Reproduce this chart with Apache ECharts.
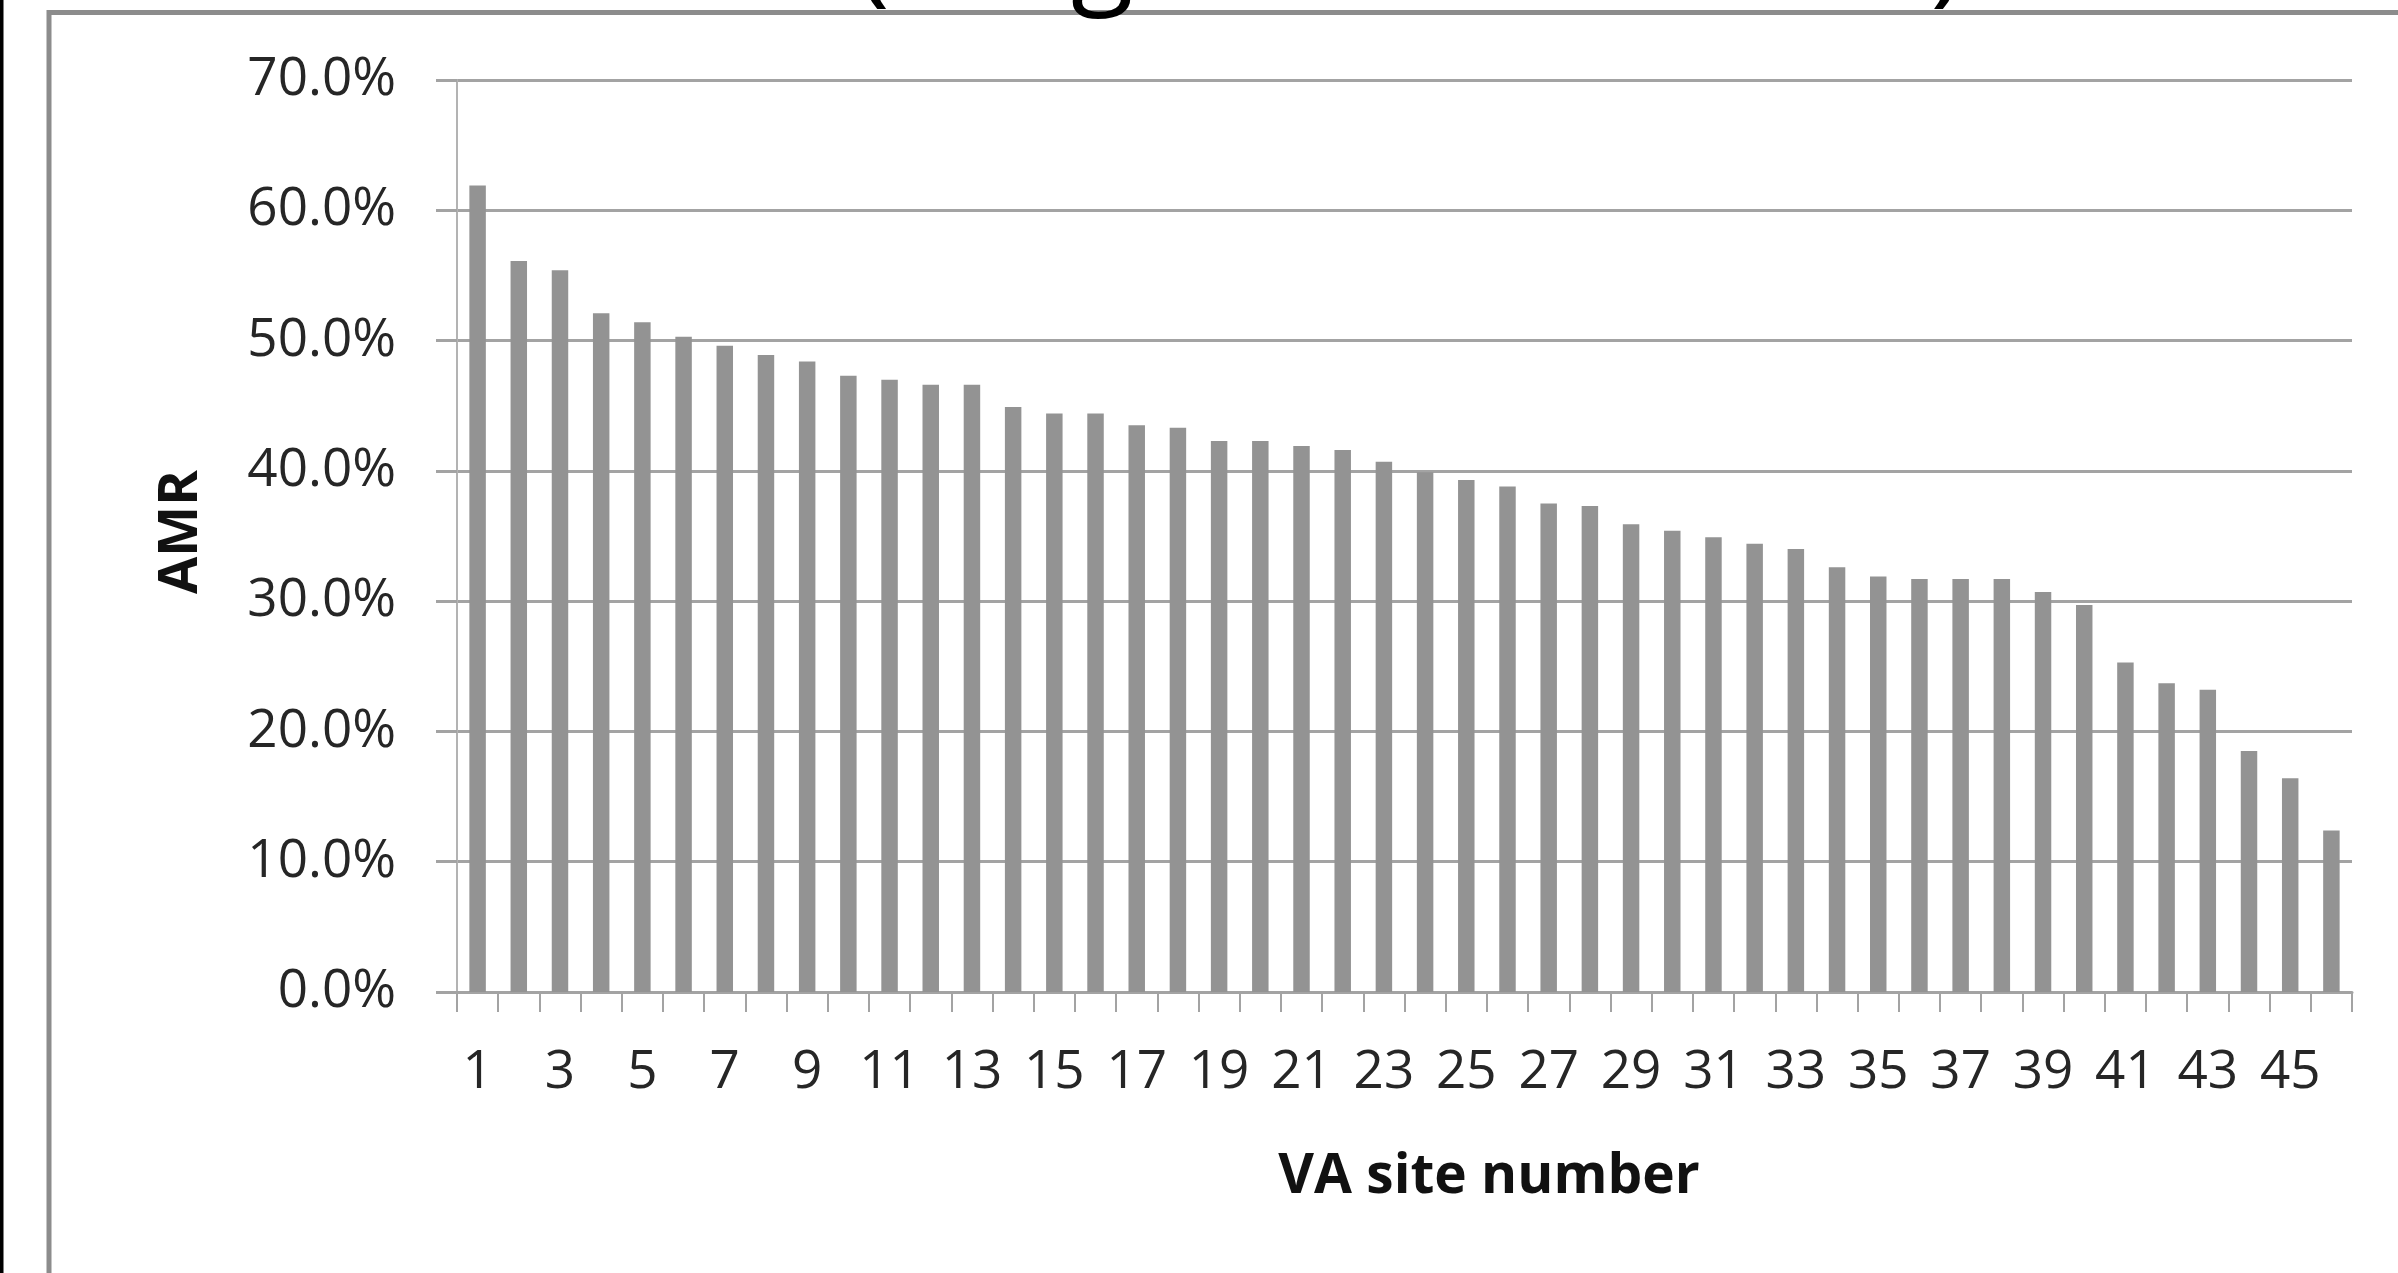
<!DOCTYPE html>
<html>
<head>
<meta charset="utf-8">
<title>AMR by VA site</title>
<script src="https://cdn.jsdelivr.net/npm/echarts@6/dist/echarts.min.js"></script>
<style>
  html, body { margin: 0; padding: 0; background: #ffffff; }
  #chart { width: 2398px; height: 1273px; }
</style>
</head>
<body>
<div id="chart"></div>
<script>
// VA site numbers (sorted by AMR, highest first)
const siteNumbers = Array.from({ length: 46 }, (_, i) => String(i + 1));

// AMR per site, in percent
const amrValues = [
  61.9, 56.1, 55.4, 52.1, 51.4, 50.3, 49.6, 48.9, 48.4, 47.3,
  47.0, 46.6, 46.6, 44.9, 44.4, 44.4, 43.5, 43.3, 42.3, 42.3,
  41.9, 41.6, 40.7, 39.9, 39.3, 38.8, 37.5, 37.3, 35.9, 35.4,
  34.9, 34.4, 34.0, 32.6, 31.9, 31.7, 31.7, 31.7, 30.7, 29.7,
  25.3, 23.7, 23.2, 18.5, 16.4, 12.4
];

// Value axis range and step, in percent
const yMin = 0;
const yMax = 70;
const yStep = 10;

const xAxisTitle = 'VA site number';
const yAxisTitle = 'AMR';
const subtitle = '(range ' + Math.min(...amrValues).toFixed(1) + '%–' +
                 Math.max(...amrValues).toFixed(1) + '%)';

const FONT = '"Open Sans", "Liberation Sans", sans-serif';
const gridColor = '#a3a3a3';
const barColor = '#939393';
const labelColor = '#262626';

const chart = echarts.init(document.getElementById('chart'), null, { renderer: 'canvas' });

chart.setOption({
  animation: false,
  backgroundColor: '#ffffff',
  grid: { left: 457, right: 46, top: 80, bottom: 281, containLabel: false },
  xAxis: {
    type: 'category',
    data: siteNumbers,
    boundaryGap: true,
    axisLine: { show: true, lineStyle: { color: gridColor, width: 3 } },
    axisTick: { show: true, interval: 0, length: 20, lineStyle: { color: gridColor, width: 2 } },
    axisLabel: {
      interval: 1,
      margin: 54,
      fontFamily: FONT,
      fontSize: 53,
      color: labelColor
    },
    splitLine: { show: false }
  },
  yAxis: {
    type: 'value',
    min: yMin,
    max: yMax,
    interval: yStep,
    axisLine: { show: true, lineStyle: { color: '#b3b3b3', width: 2 } },
    axisTick: { show: true, length: 21, lineStyle: { color: gridColor, width: 3 } },
    axisLabel: {
      margin: 61,
      fontFamily: FONT,
      fontSize: 53,
      color: labelColor,
      formatter: v => v.toFixed(1) + '%'
    },
    splitLine: { show: true, lineStyle: { color: gridColor, width: 3 } }
  },
  series: [{
    type: 'bar',
    data: amrValues,
    barCategoryGap: '60%',
    itemStyle: { color: barColor },
    z: 3
  }],
  graphic: [
    // outer chart-area frame
    {
      type: 'rect',
      shape: { x: 49, y: 12.5, width: 2600, height: 1500 },
      style: { fill: 'none', stroke: '#8c8c8c', lineWidth: 5 },
      silent: true, z: 0
    },
    // dark edge on the far left
    {
      type: 'rect',
      shape: { x: 0, y: 0, width: 3.5, height: 1273 },
      style: { fill: '#000000' },
      silent: true, z: 0
    },
    // title line, mostly above the canvas
    {
      type: 'text',
      x: 1410, y: -42,
      style: {
        text: subtitle,
        font: '400 115px ' + FONT,
        fill: '#000000',
        align: 'center',
        verticalAlign: 'middle'
      },
      silent: true, z: 10
    },
    // y-axis title
    {
      type: 'text',
      x: 182, y: 532,
      rotation: Math.PI / 2,
      style: {
        text: yAxisTitle,
        font: 'bold 54px ' + FONT,
        fill: '#111111',
        align: 'center',
        verticalAlign: 'middle'
      },
      silent: true, z: 10
    },
    // x-axis title
    {
      type: 'text',
      x: 1489, y: 1177,
      style: {
        text: xAxisTitle,
        font: 'bold 55px ' + FONT,
        fill: '#111111',
        align: 'center',
        verticalAlign: 'middle'
      },
      silent: true, z: 10
    }
  ]
});
</script>
</body>
</html>
